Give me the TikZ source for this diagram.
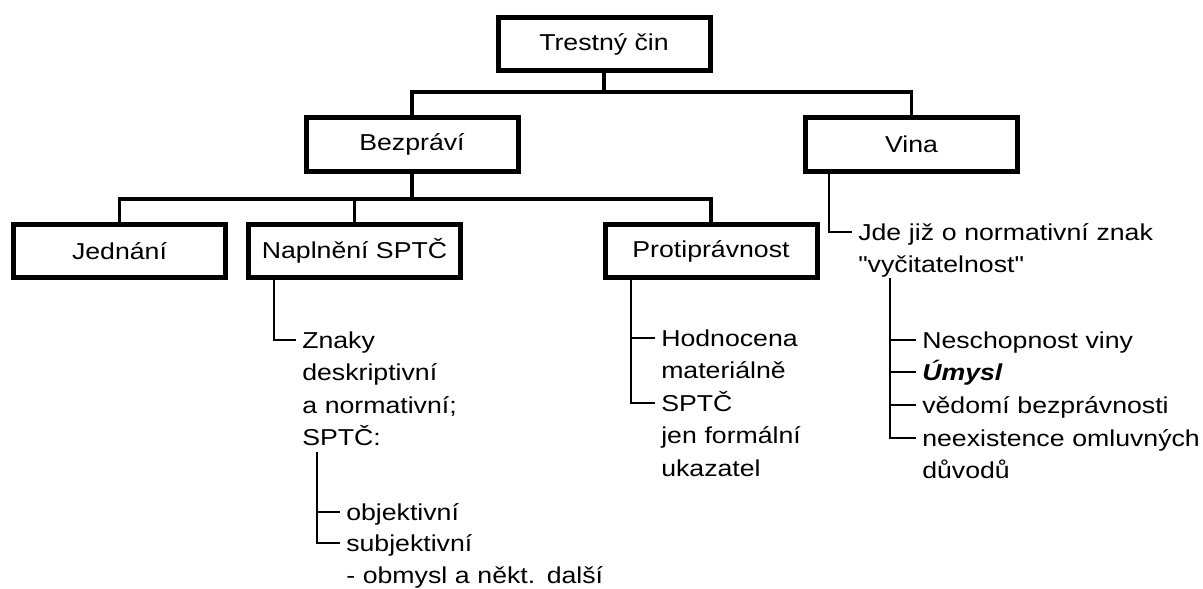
\documentclass[tikz,border=0pt]{standalone}
\usepackage{fontspec}
\setmainfont{Liberation Sans}[FakeStretch=1.16,Ligatures=TeXOff]
\usetikzlibrary{positioning}

\newcommand{\chartfont}{\fontsize{17.25pt}{24.4pt}\selectfont}

\begin{document}
\begin{tikzpicture}[x=0.75pt,y=-0.75pt,
    box/.style={draw,line width=3.75pt,minimum width=159pt,minimum height=40pt,inner sep=2pt,font=\chartfont},
    link/.style={line width=2.3pt},
    twig/.style={line width=1.8pt,shorten >=4.5pt},
    item/.style={anchor=north west,inner sep=0pt,text height=6pt,text width=230pt,align=left,font=\chartfont}]
  \useasboundingbox[fill=white] (0,0) rectangle (1203,589);

  % boxes
  \node[box] (trestny) at (604,44) {Trestný čin};
  \node[box] (bezpravi) at (412,144.5) {Bezpráví};
  \node[box] (vina) at (911.5,144.5) {Vina};
  \node[box] (jednani) at (119.5,251) {Jednání};
  \node[box] (naplneni) at (354.5,251) {Naplnění SPTČ};
  \node[box] (protipravnost) at (711,251) {Protiprávnost};

  % joins between boxes
  \coordinate (bus1) at (0,92);
  \coordinate (bus2) at (0,199);
  \draw[link] (trestny.south) -- (trestny.south |- bus1);
  \draw[link] (bezpravi.north) -- (bezpravi.north |- bus1) -- (vina.north |- bus1) -- (vina.north);
  \draw[link] (bezpravi.south) -- (bezpravi.south |- bus2);
  \draw[link] (jednani.north) -- (jednani.north |- bus2) -- (protipravnost.north |- bus2) -- (protipravnost.north);
  \draw[link] (naplneni.north) -- (naplneni.north |- bus2);

  % texts
  \node[item] (znaky) at (302,340) {Znaky\\deskriptivní\\a normativní;\\SPTČ:};
  \node[item] (objektivni) at (346,512) {objektivní};
  \node[item] (subjektivni) at (346,543) {subjektivní\\- obmysl a někt. další};
  \node[item] (hodnocena) at (661,338) {Hodnocena\\materiálně};
  \node[item] (ukazatel) at (661,403) {SPTČ\\jen formální\\ukazatel};
  \node[item] (jde) at (858,232) {Jde již o normativní znak\\"vyčitatelnost"};
  \node[item] (neschopnost) at (922,340) {Neschopnost viny};
  \node[item] (umysl) at (922,372) {\textbf{\textit{Úmysl}}};
  \node[item] (vedomi) at (922,405) {vědomí bezprávnosti};
  \node[item] (neexistence) at (922,438) {neexistence omluvných\\důvodů};

  % twigs to the texts
  \draw[twig] (274,0 |- naplneni.south) |- (znaky.north west);
  \draw[twig,shorten <=4pt] (317,0 |- znaky.south) |- (subjektivni.north west);
  \draw[twig] (317,0 |- objektivni.north west) -- (objektivni.north west);
  \draw[twig] (631,0 |- protipravnost.south) |- (ukazatel.north west);
  \draw[twig] (631,0 |- hodnocena.north west) -- (hodnocena.north west);
  \draw[twig] (829,0 |- vina.south) |- (jde.north west);
  \draw[twig] (890,0 |- jde.south) |- (neexistence.north west);
  \foreach \t in {neschopnost,umysl,vedomi}
    \draw[twig] (890,0 |- \t.north west) -- (\t.north west);
\end{tikzpicture}
\end{document}
